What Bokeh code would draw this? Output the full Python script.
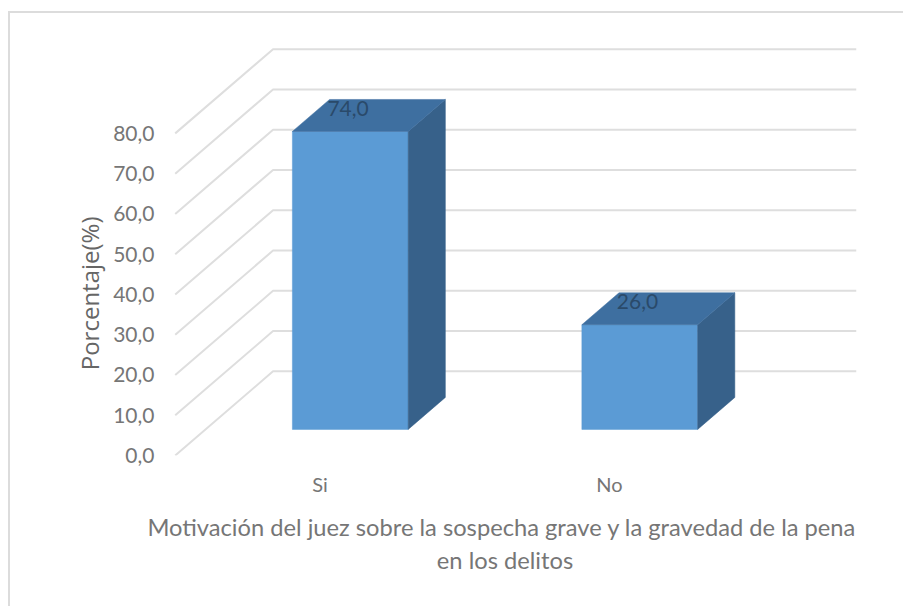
from bokeh.plotting import figure
from bokeh.models import FixedTicker
from bokeh.core.properties import value
from bokeh.embed import file_html
from bokeh.resources import INLINE

categories = ["Si", "No"]
percentages = [74.0, 26.0]
y_ticks = [0, 10, 20, 30, 40, 50, 60, 70, 80]
y_tick_labels = ["0,0", "10,0", "20,0", "30,0", "40,0", "50,0", "60,0", "70,0", "80,0"]
x_title = "Motivación del juez sobre la sospecha grave y  la gravedad de la pena\nen los delitos"
y_title = "Porcentaje(%)"

# oblique projection of the 3D box, in data units
DX = 0.338
DY = 20.9
DEPTH_FRONT = 0.31
DEPTH_BACK = 0.69
BAR_W = 0.40

FONT = "Lato"
TXT = "#767676"

p = figure(width=895, height=595, output_backend="svg", toolbar_location=None,
           x_range=(-0.575, 1.8535), y_range=(0, 105.3),
           min_border_left=143, min_border_right=49, min_border_top=18, min_border_bottom=153,
           margin=(11, 0, 0, 8),
           styles={"border-top": "2px solid #dcdcdc", "border-left": "2px solid #dcdcdc"})
p.background_fill_color = "white"
p.outline_line_color = None
p.grid.visible = False

# walls
x_left, x_back, x_right = -0.5, -0.5 + DX, 1.8535
for t in y_ticks:
    p.line([x_left, x_back, x_right], [t, t + DY, t + DY], line_color="#dedede", line_width=2)

# bars
for i, v in enumerate(percentages):
    xl = i - BAR_W / 2 + DX * DEPTH_FRONT
    xr = xl + BAR_W
    b = DY * DEPTH_FRONT
    ddx = DX * (DEPTH_BACK - DEPTH_FRONT)
    ddy = DY * (DEPTH_BACK - DEPTH_FRONT)
    p.patch([xl, xr, xr, xl], [b, b, b + v, b + v], fill_color="#5b9bd5", line_color="#5b9bd5", line_width=0.5)
    p.patch([xr, xr + ddx, xr + ddx, xr], [b, b + ddy, b + v + ddy, b + v], fill_color="#37618a", line_color="#37618a", line_width=0.5)
    p.patch([xl, xr, xr + ddx, xl + ddx], [b + v, b + v, b + v + ddy, b + v + ddy], fill_color="#3e6fa0", line_color="#3e6fa0", line_width=0.5)
    p.text([i + 0.097], [v + 12.3], text=[f"{v:.1f}".replace(".", ",")], text_align="center",
           text_baseline="middle", text_font=value(FONT), text_font_size="21px", text_color="#2a4a6a")

# axes
ya = p.yaxis[0]
ya.ticker = FixedTicker(ticks=y_ticks)
ya.major_label_overrides = dict(zip(y_ticks, y_tick_labels))
ya.axis_line_color = None
ya.major_tick_line_color = None
ya.minor_tick_line_color = None
ya.major_label_standoff = -7
ya.major_label_text_font = FONT
ya.major_label_text_font_size = "21px"
ya.major_label_text_color = TXT
# the title sits lower than the frame's centre: trailing no-break spaces push it down
ya.axis_label = y_title + "\u00a0" * 16
ya.axis_label_text_font = "Open Sans"
ya.axis_label_text_font_size = "24px"
ya.axis_label_text_font_style = "normal"
ya.axis_label_text_color = "#666666"
ya.axis_label_standoff = 4

xa = p.xaxis[0]
xa.ticker = FixedTicker(ticks=list(range(len(categories))))
xa.major_label_overrides = dict(zip(range(len(categories)), categories))
xa.axis_line_color = None
xa.major_tick_line_color = None
xa.minor_tick_line_color = None
xa.major_label_standoff = 10
xa.major_label_text_font = FONT
xa.major_label_text_font_size = "20px"
xa.major_label_text_color = TXT
xa.axis_label = x_title
xa.axis_label_text_font = FONT
xa.axis_label_text_font_size = "23.7px"
xa.axis_label_text_font_style = "normal"
xa.axis_label_text_color = TXT
xa.axis_label_standoff = 14

open("out.html", "w").write(file_html(p, INLINE))
